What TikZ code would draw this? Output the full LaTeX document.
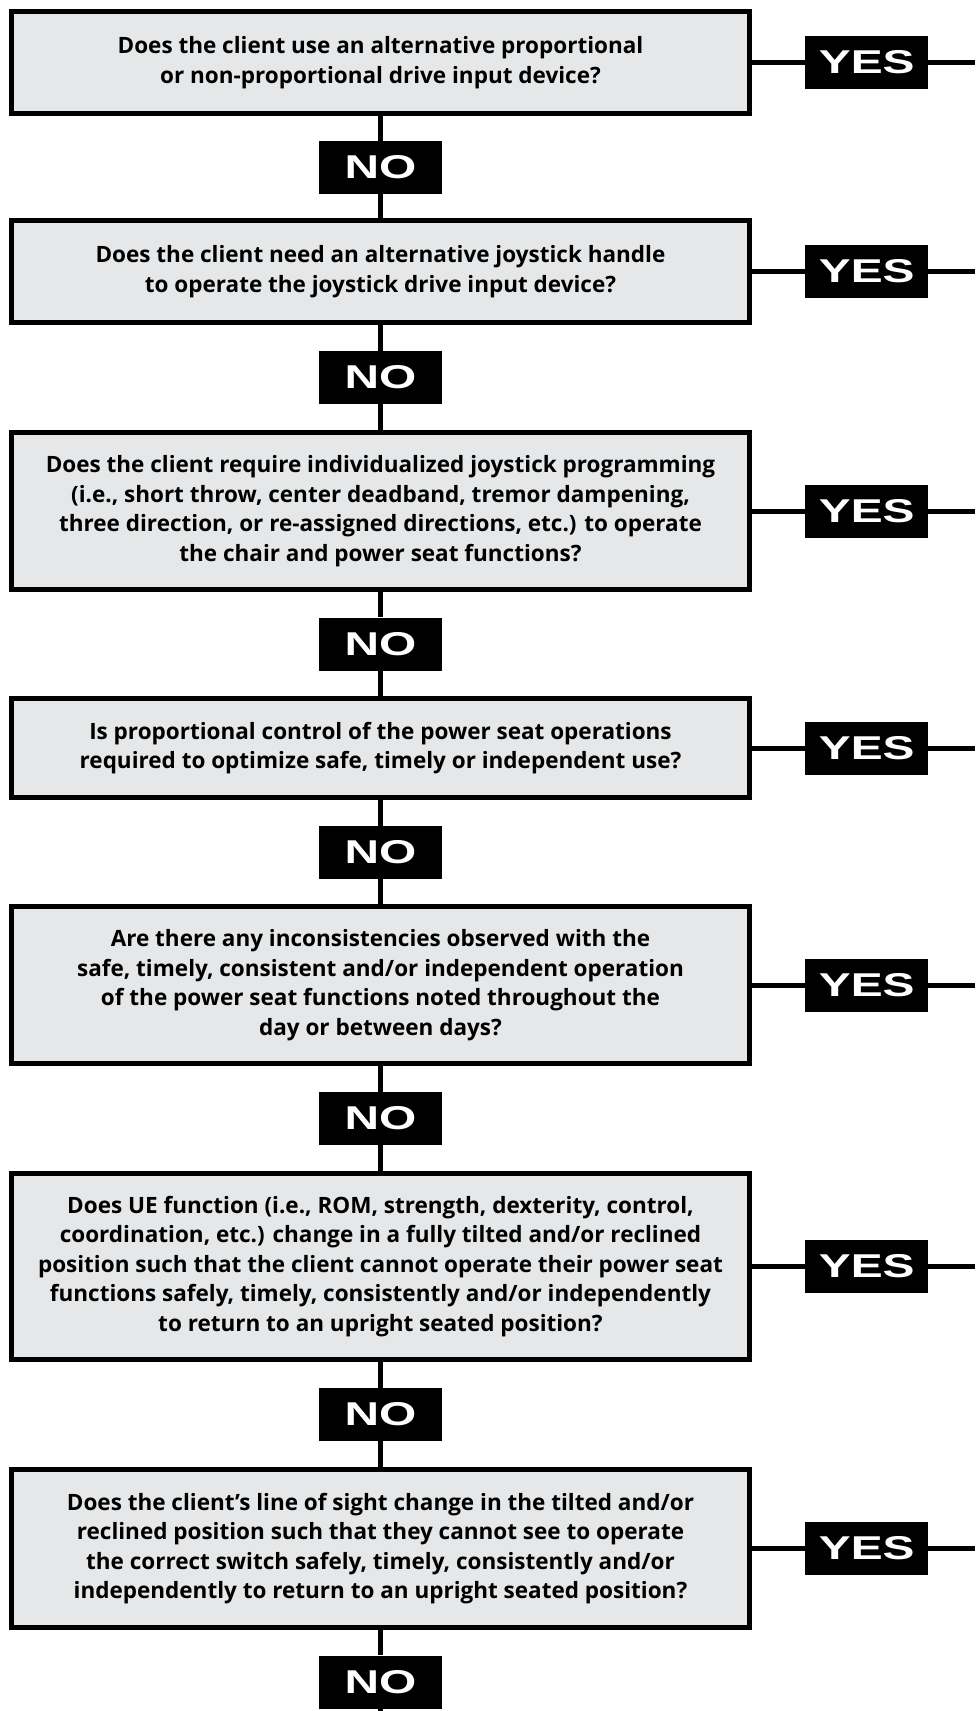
\documentclass[tikz,border=0pt]{standalone}
\usepackage{fontspec}
\setmainfont{Open Sans}
\newfontfamily\tagfont{Liberation Sans}[FakeStretch=1.45]
\usetikzlibrary{positioning}
\definecolor{boxgray}{HTML}{E6E7E8}

\tikzset{
    question/.style={draw=black, line width=5pt, fill=boxgray, minimum width=738pt,
        inner sep=0pt, align=center, font=\bfseries\fontsize{22.5}{29.5}\selectfont},
    answer/.style={fill=black, text=white, minimum width=123pt, minimum height=53pt,
        inner sep=0pt, font=\tagfont\bfseries\fontsize{33}{33}\selectfont},
    link/.style={line width=5pt}
}

\begin{document}
\begin{tikzpicture}[x=1pt,y=-1pt]
    \useasboundingbox (0,0) rectangle (975,1711);
    % Questions
    \foreach \i/\y/\h/\txt in {
        1/62.5/102/{Does the client use an alternative proportional\\or non-proportional drive input device?},
        2/271.5/102/{Does the client need an alternative joystick handle\\to operate the joystick drive input device?},
        3/511/157/{Does the client require individualized joystick programming\\(i.e., short throw, center deadband, tremor dampening,\\three direction, or re-assigned directions, etc.) to operate\\the chair and power seat functions?},
        4/748/99/{Is proportional control of the power seat operations\\required to optimize safe, timely or independent use?},
        5/985/157/{Are there any inconsistencies observed with the\\safe, timely, consistent and/or independent operation\\of the power seat functions noted throughout the\\day or between days?},
        6/1266.5/186/{Does UE function (i.e., ROM, strength, dexterity, control,\\coordination, etc.) change in a fully tilted and/or reclined\\position such that the client cannot operate their power seat\\functions safely, timely, consistently and/or independently\\to return to an upright seated position?},
        7/1548.5/158/{Does the client’s line of sight change in the tilted and/or\\reclined position such that they cannot see to operate\\the correct switch safely, timely, consistently and/or\\independently to return to an upright seated position?}} {
        \node[question, minimum height=\h pt] (Q-\i) at (380.5,\y) {\txt};
    }
    % NO tags
    \foreach \i/\y in {1/167.5,2/377.5,3/644,4/852.5,5/1118.5,6/1414.5,7/1682} {
        \node[answer] (No-\i) at (380.5,\y) {NO};
    }
    % YES tags
    \foreach \i in {1,...,7} {
        \node[answer, right=53pt of Q-\i] (Yes-\i) {YES};
        \coordinate (Edge-\i) at (Yes-\i -| 975,0);
    }
    \coordinate (Bottom) at (380.5,1711);
    % Arrows
    \foreach \i in {1,...,6} {
        \pgfmathtruncatemacro{\j}{\i+1}
        \draw[link] (Q-\i) -- (No-\i);
        \draw[link] (No-\i) -- (Q-\j);
    }
    \draw[link] (Q-7) -- (No-7);
    \draw[link] (No-7) -- (Bottom);
    \foreach \i in {1,...,7} {
        \draw[link] (Q-\i) -- (Yes-\i);
        \draw[link] (Yes-\i) -- (Edge-\i);
    }
\end{tikzpicture}
\end{document}
